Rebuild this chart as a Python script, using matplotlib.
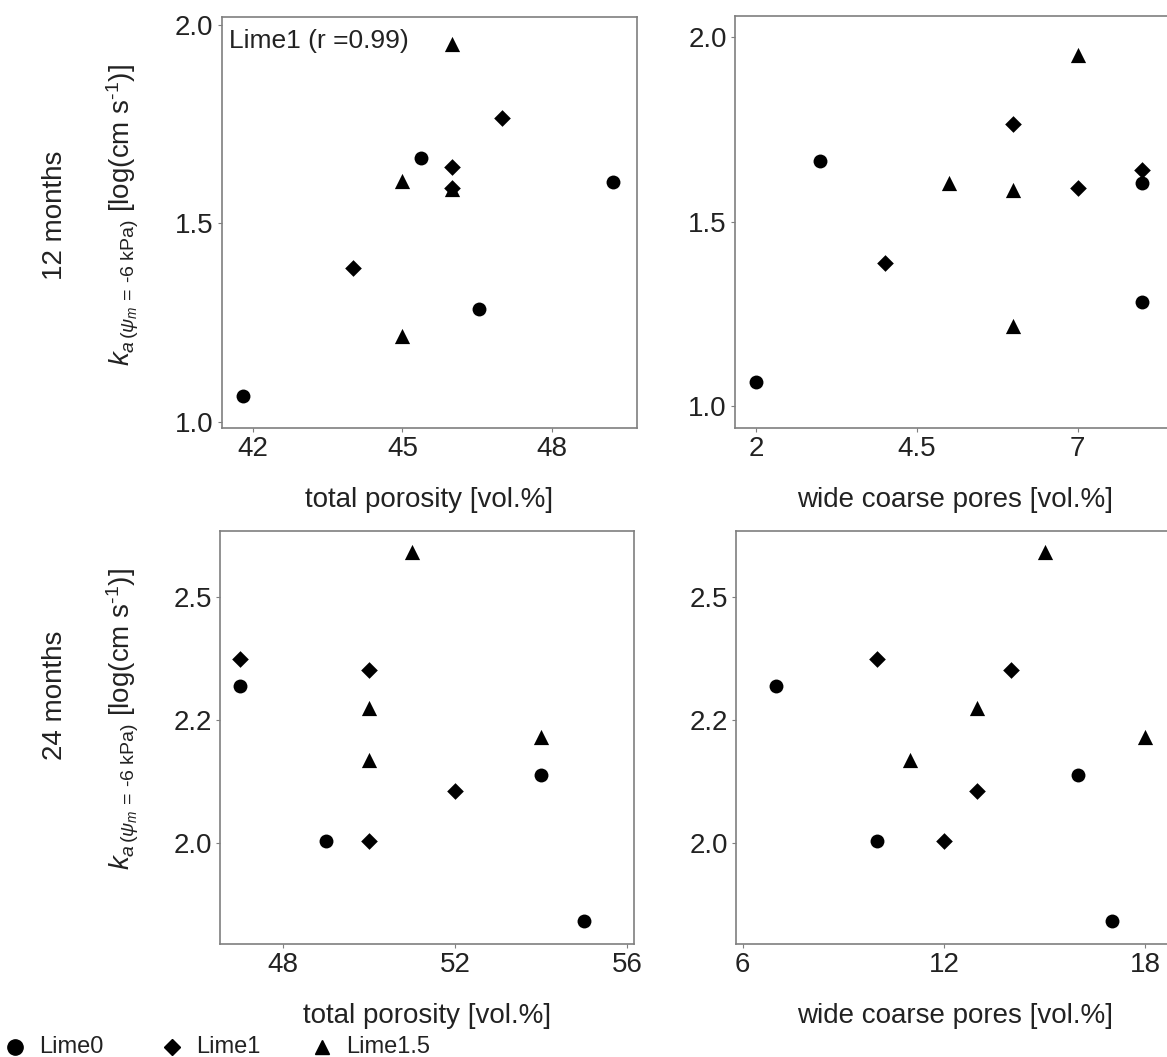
import matplotlib
matplotlib.use("Agg")
import matplotlib.pyplot as plt
from matplotlib.lines import Line2D

plt.rcParams['font.family'] = ['Liberation Sans', 'DejaVu Sans']
plt.rcParams['mathtext.fontset'] = 'custom'
plt.rcParams['mathtext.rm'] = 'Liberation Sans'
plt.rcParams['mathtext.it'] = 'Liberation Sans:italic'
plt.rcParams['mathtext.bf'] = 'Liberation Sans:bold'

# ---- data: 12 months ----
tp12_lime0 = [41.8, 45.37, 46.54, 49.24]
wcp12_lime0 = [2, 3, 8, 8]
ka12_lime0 = [1.066, 1.665, 1.283, 1.605]

tp12_lime1 = [44, 46, 46, 47]
wcp12_lime1 = [4, 8, 7, 6]
ka12_lime1 = [1.387, 1.641, 1.590, 1.765]

tp12_lime15 = [45, 45, 46, 46]
wcp12_lime15 = [5, 6, 6, 7]
ka12_lime15 = [1.606, 1.217, 1.587, 1.953]

# ---- data: 24 months ----
tp24_lime0 = [47, 49, 54, 55]
wcp24_lime0 = [7, 10, 16, 17]
ka24_lime0 = [2.319, 2.004, 2.139, 1.840]

tp24_lime1 = [47, 50, 50, 52]
wcp24_lime1 = [10, 14, 12, 13]
ka24_lime1 = [2.374, 2.352, 2.004, 2.106]

tp24_lime15 = [51, 50, 50, 54]
wcp24_lime15 = [15, 13, 11, 18]
ka24_lime15 = [2.592, 2.274, 2.169, 2.215]

groups = ['Lime0', 'Lime1', 'Lime1.5']

W, H = 1167, 1057
fig = plt.figure(figsize=(W / 100, H / 100), dpi=100)
fig.patch.set_facecolor('white')


def px_axes(l, t, r, b):
    return fig.add_axes([l / W, 1 - b / H, (r - l) / W, (b - t) / H])


def fx(x):
    return x / W


def fy(y):
    return 1 - y / H


styles = {'Lime0': dict(marker='o', s=100),
          'Lime1': dict(marker='D', s=72),
          'Lime1.5': dict(marker='^', s=120)}

frame_col = '#7f7f7f'
text_col = '#222222'


def style_axes(ax, xlim, ylim, xticks, yticks, yticklabels):
    ax.set_xlim(*xlim)
    ax.set_ylim(*ylim)
    ax.set_xticks(xticks)
    ax.set_xticklabels([str(t) for t in xticks])
    ax.set_yticks(yticks)
    ax.set_yticklabels(yticklabels)
    for sp in ax.spines.values():
        sp.set_color(frame_col)
        sp.set_linewidth(1.2)
    ax.tick_params(length=3, width=0.8, color=frame_col, labelsize=20,
                   labelcolor=text_col, pad=3)


def draw(ax, xs, ys):
    for g, x, y in zip(groups, xs, ys):
        ax.scatter(x, y, color='black', linewidths=0, zorder=3, clip_on=False, **styles[g])


# top-left: total porosity, 12 months
ax1 = px_axes(221.7, 16.7, 636.7, 427.7)
draw(ax1, [tp12_lime0, tp12_lime1, tp12_lime15], [ka12_lime0, ka12_lime1, ka12_lime15])
style_axes(ax1, (41.365, 49.71), (0.985, 2.021), [42, 45, 48], [1.0, 1.5, 2.0], ['1.0', '1.5', '2.0'])
ax1.text(0.018, 0.94, 'Lime1 (r =0.99)', transform=ax1.transAxes, fontsize=19,
         color=text_col, ha='left', va='center')

# top-right: wide coarse pores, 12 months
ax2 = px_axes(735, 16, 1176, 427.7)
draw(ax2, [wcp12_lime0, wcp12_lime1, wcp12_lime15], [ka12_lime0, ka12_lime1, ka12_lime15])
style_axes(ax2, (1.674, 8.53), (0.941, 2.058), [2, 4.5, 7], [1.0, 1.5, 2.0], ['1.0', '1.5', '2.0'])

# bottom-left: total porosity, 24 months
ax3 = px_axes(220, 530.7, 634.3, 944)
draw(ax3, [tp24_lime0, tp24_lime1, tp24_lime15], [ka24_lime0, ka24_lime1, ka24_lime15])
style_axes(ax3, (46.545, 56.16), (1.794, 2.636), [48, 52, 56], [2.0, 2.25, 2.5], ['2.0', '2.2', '2.5'])

# bottom-right: wide coarse pores, 24 months
ax4 = px_axes(736, 530.7, 1176, 944)
draw(ax4, [wcp24_lime0, wcp24_lime1, wcp24_lime15], [ka24_lime0, ka24_lime1, ka24_lime15])
style_axes(ax4, (5.8, 18.92), (1.794, 2.636), [6, 12, 18], [2.0, 2.25, 2.5], ['2.0', '2.2', '2.5'])

# x axis titles
fig.text(fx(429), fy(500), 'total porosity [vol.%]', fontsize=20, color=text_col, ha='center', va='center')
fig.text(fx(955), fy(500), 'wide coarse pores [vol.%]', fontsize=20, color=text_col, ha='center', va='center')
fig.text(fx(427), fy(1016), 'total porosity [vol.%]', fontsize=20, color=text_col, ha='center', va='center')
fig.text(fx(955), fy(1016), 'wide coarse pores [vol.%]', fontsize=20, color=text_col, ha='center', va='center')

# row titles and y axis titles
ylab = r'$k_{a\,(\psi_m\,=\,\text{-6 kPa})}$ [log(cm s$^{\text{-1}}$)]'
fig.text(fx(55), fy(215), '12 months', fontsize=20, color=text_col, rotation=90, ha='center', va='center')
fig.text(fx(55), fy(695), '24 months', fontsize=20, color=text_col, rotation=90, ha='center', va='center')
fig.text(fx(123), fy(215), ylab, fontsize=20, color=text_col, rotation=90, ha='center', va='center')
fig.text(fx(123), fy(719), ylab, fontsize=20, color=text_col, rotation=90, ha='center', va='center')

# legend at bottom left
leg_x = [15, 172, 322]
leg_sizes = {'Lime0': 11, 'Lime1': 8.5, 'Lime1.5': 10.5}
for g, x in zip(groups, leg_x):
    fig.add_artist(Line2D([fx(x)], [fy(1047)], marker=styles[g]['marker'], color='black',
                          markersize=leg_sizes[g], linestyle='none', transform=fig.transFigure))
    fig.text(fx(x + 24), fy(1047), g, fontsize=17, color=text_col, ha='left', va='center')

fig.savefig('out.png', dpi=100, facecolor='white')
